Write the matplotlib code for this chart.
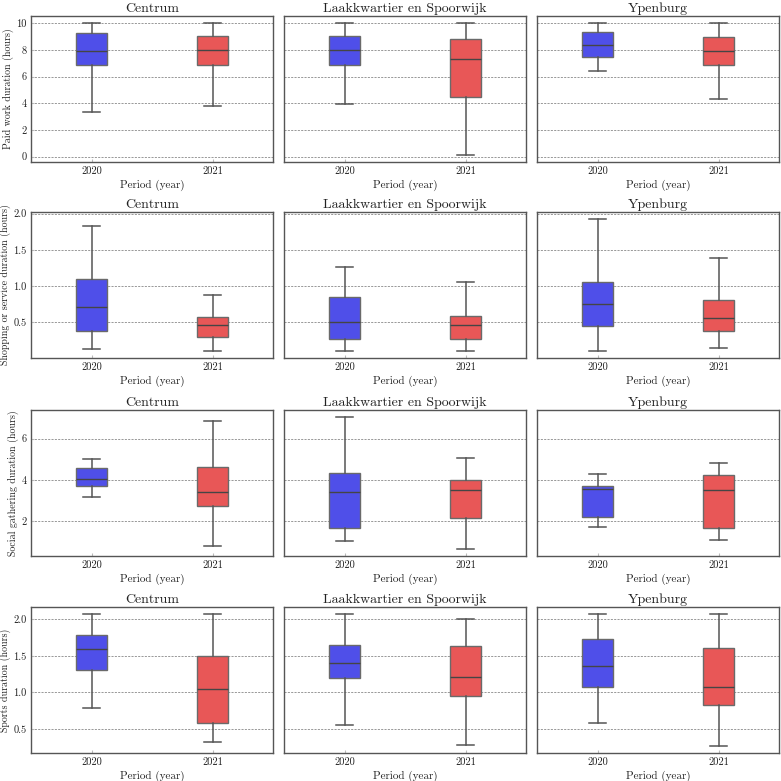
import matplotlib
matplotlib.use("Agg")
import matplotlib.pyplot as plt

plt.rcParams['font.family'] = ['cmr10', 'DejaVu Serif']
plt.rcParams['axes.formatter.use_mathtext'] = True
plt.rcParams['mathtext.fontset'] = 'cm'

districts = ["Centrum", "Laakkwartier en Spoorwijk", "Ypenburg"]
periods = ["2020", "2021"]
ylabels = ["Paid work duration (hours)", "Shopping or service duration (hours)",
           "Social gathering duration (hours)", "Sports duration (hours)"]
xlabel = "Period (year)"

# each entry: [whislo, q1, med, q3, whishi] for (2020, 2021) per district
paid_work = [
    [[3.38, 6.85, 7.95, 9.3, 10.0], [3.8, 6.9, 8.0, 9.05, 10.0]],
    [[3.95, 6.9, 8.0, 9.05, 10.05], [0.1, 4.45, 7.3, 8.8, 10.05]],
    [[6.4, 7.5, 8.4, 9.35, 10.05], [4.35, 6.85, 7.9, 8.95, 10.05]],
]
shopping = [
    [[0.127, 0.375, 0.71, 1.095, 1.83], [0.11, 0.30, 0.46, 0.58, 0.88]],
    [[0.10, 0.265, 0.505, 0.85, 1.26], [0.11, 0.27, 0.46, 0.59, 1.05]],
    [[0.10, 0.45, 0.75, 1.06, 1.93], [0.14, 0.385, 0.555, 0.81, 1.385]],
]
social = [
    [[3.19, 3.69, 4.03, 4.56, 5.02], [0.81, 2.74, 3.42, 4.65, 6.85]],
    [[1.06, 1.69, 3.40, 4.35, 7.06], [0.65, 2.18, 3.53, 3.98, 5.08]],
    [[1.71, 2.21, 3.55, 3.69, 4.29], [1.08, 1.68, 3.52, 4.24, 4.82]],
]
sports = [
    [[0.79, 1.31, 1.60, 1.785, 2.07], [0.32, 0.58, 1.05, 1.50, 2.08]],
    [[0.55, 1.20, 1.40, 1.656, 2.07], [0.275, 0.95, 1.215, 1.63, 2.0]],
    [[0.58, 1.08, 1.36, 1.73, 2.07], [0.26, 0.83, 1.08, 1.605, 2.07]],
]
all_data = [paid_work, shopping, social, sports]
yticks = [[0, 2, 4, 6, 8, 10], [0.5, 1.0, 1.5, 2.0], [2, 4, 6], [0.5, 1.0, 1.5, 2.0]]
ytick_fmt = ["{:.0f}", "{:.1f}", "{:.0f}", "{:.1f}"]

colors = ["#4f4fe9", "#e85757"]
edge = "#6a6a6a"

fig = plt.figure(figsize=(7.81, 7.81), dpi=100)
W, H = 781, 781
lefts = [31, 284, 537]
axw = 242
bottoms = [162, 358, 556, 753]
axh = 146

for r in range(4):
    first = None
    for c in range(3):
        ax = fig.add_axes([lefts[c] / W, 1 - bottoms[r] / H, axw / W, axh / H],
                          sharey=first)
        if first is None:
            first = ax
        stats = []
        for p in range(2):
            lo, q1, med, q3, hi = all_data[r][c][p]
            stats.append(dict(whislo=lo, q1=q1, med=med, q3=q3, whishi=hi,
                              fliers=[], label=periods[p]))
        bp = ax.bxp(stats, positions=[0, 1], widths=0.25, patch_artist=True,
                    showfliers=False, capwidths=0.14,
                    boxprops=dict(edgecolor=edge, linewidth=1.0),
                    whiskerprops=dict(color="#555555", linewidth=1.1),
                    capprops=dict(color="#555555", linewidth=1.1),
                    medianprops=dict(color="#454545", linewidth=1.0))
        for patch, col in zip(bp['boxes'], colors):
            patch.set_facecolor(col)
        ax.set_xlim(-0.5, 1.5)
        ax.set_xticks([0, 1])
        ax.set_xticklabels(periods)
        ax.set_yticks(yticks[r])
        ax.set_yticklabels([ytick_fmt[r].format(v) for v in yticks[r]])
        ax.yaxis.grid(True, linestyle=(0, (2.5, 1.5)), color="#888888", linewidth=0.6)
        ax.set_axisbelow(True)
        ax.tick_params(axis='both', direction='in', length=2.0, color="#bbbbbb",
                       labelsize=7.5, pad=3, labelcolor="#222222")
        ax.tick_params(axis='y', left=(c == 0), labelleft=(c == 0))
        for s in ax.spines.values():
            s.set_color("#555555")
            s.set_linewidth(1.0)
        ax.set_title(districts[c], fontsize=10, pad=3, color="#222222")
        ax.set_xlabel(xlabel, fontsize=8, labelpad=3, color="#222222")
        if c == 0:
            ax.set_ylabel(ylabels[r], fontsize=7.2, labelpad=2, color="#222222")
    first.autoscale(axis='y')

fig.savefig("out.png", dpi=100)
